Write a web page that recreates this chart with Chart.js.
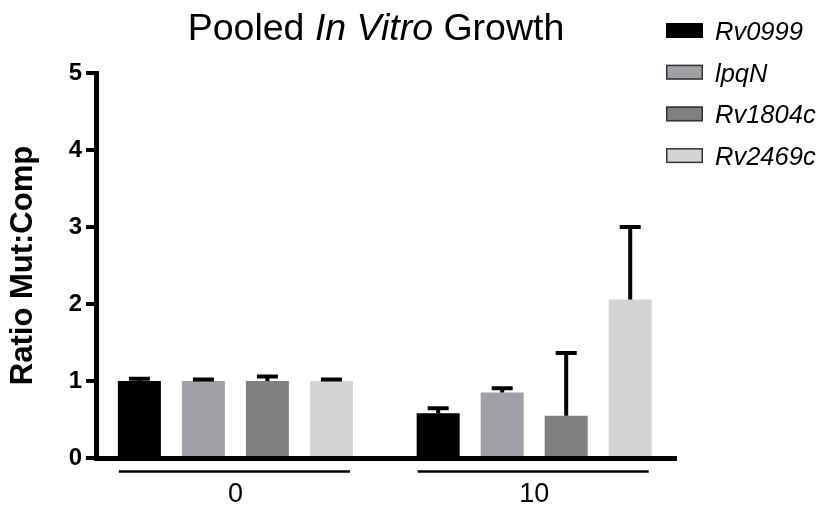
<!DOCTYPE html>
<html>
<head>
<meta charset="utf-8">
<script src="https://cdn.jsdelivr.net/npm/chart.js@4.4.1/dist/chart.umd.min.js"></script>
<style>
  html, body { margin: 0; padding: 0; background: #fff; }
</style>
</head>
<body>
<canvas id="chart" width="823" height="517"></canvas>
<script>
// Time points (x groups) and strains
const categories = ["0", "10"];
const seriesNames = ["Rv0999", "lpqN", "Rv1804c", "Rv2469c"];
const seriesColors = ["#000000", "#a1a1a5", "#808080", "#d4d4d4"];

// Mean ratio mutant:complement
const rv0999 = [1.00, 0.58];
const lpqN = [1.00, 0.85];
const rv1804c = [1.00, 0.55];
const rv2469c = [1.00, 2.06];

// Upper error (SEM)
const rv0999Err = [0.03, 0.065];
const lpqNErr = [0.02, 0.055];
const rv1804cErr = [0.06, 0.815];
const rv2469cErr = [0.02, 0.94];

const yTicks = [0, 1, 2, 3, 4, 5];

const FONT = "'Liberation Sans', Arial, Helvetica, sans-serif";

const values = [rv0999, lpqN, rv1804c, rv2469c];
const errors = [rv0999Err, lpqNErr, rv1804cErr, rv2469cErr];

const datasets = seriesNames.map((name, s) => ({
  label: name,
  data: values[s].map((v, i) => ({ x: i, y: v })),
  errors: errors[s],
  backgroundColor: seriesColors[s],
  borderWidth: 0,
  categoryPercentage: 0.857,
  barPercentage: 0.672
}));

// upward error bars
const errorBars = {
  id: "errorBars",
  afterDatasetsDraw(chart) {
    const ctx = chart.ctx;
    const yScale = chart.scales.y;
    ctx.save();
    ctx.strokeStyle = "#000";
    ctx.lineWidth = 4;
    chart.data.datasets.forEach((ds, di) => {
      chart.getDatasetMeta(di).data.forEach((bar, i) => {
        const top = yScale.getPixelForValue(ds.data[i].y + ds.errors[i]);
        ctx.beginPath();
        ctx.moveTo(bar.x, bar.y);
        ctx.lineTo(bar.x, top);
        ctx.moveTo(bar.x - 10.5, top);
        ctx.lineTo(bar.x + 10.5, top);
        ctx.stroke();
      });
    });
    ctx.restore();
  }
};

// title, group brackets and legend
const decorations = {
  id: "decorations",
  afterDraw(chart) {
    const ctx = chart.ctx;
    const area = chart.chartArea;
    ctx.save();

    // brackets under each group
    const first = chart.getDatasetMeta(0).data;
    const last = chart.getDatasetMeta(chart.data.datasets.length - 1).data;
    ctx.strokeStyle = "#000";
    ctx.lineWidth = 2.5;
    categories.forEach((c, i) => {
      const x1 = first[i].x - first[i].width / 2 + 1;
      const x2 = last[i].x + last[i].width / 2 - 3;
      ctx.beginPath();
      ctx.moveTo(x1, area.bottom + 13.5);
      ctx.lineTo(x2, area.bottom + 13.5);
      ctx.stroke();
    });

    // title with italic part
    const parts = [["Pooled ", ""], ["In Vitro", "italic "], [" Growth", ""]];
    const size = 37.5;
    let total = 0;
    parts.forEach(p => {
      ctx.font = p[1] + size + "px " + FONT;
      total += ctx.measureText(p[0]).width;
    });
    let x = 376 - total / 2;
    ctx.fillStyle = "#000";
    ctx.textBaseline = "alphabetic";
    ctx.textAlign = "left";
    parts.forEach(p => {
      ctx.font = p[1] + size + "px " + FONT;
      ctx.fillText(p[0], x, 40);
      x += ctx.measureText(p[0]).width;
    });

    // legend
    chart.data.datasets.forEach((ds, i) => {
      const cy = 30.5 + i * 41.7;
      ctx.fillStyle = ds.backgroundColor;
      ctx.fillRect(666, cy - 7.5, 37, 15);
      if (i > 0) {
        ctx.strokeStyle = "#333";
        ctx.lineWidth = 1.5;
        ctx.strokeRect(666.75, cy - 6.75, 35.5, 13.5);
      }
      ctx.fillStyle = "#000";
      ctx.font = "italic 25.5px " + FONT;
      ctx.fillText(ds.label, 715, cy + 9.5);
    });

    ctx.restore();
  }
};

new Chart(document.getElementById("chart"), {
  type: "bar",
  data: { datasets },
  plugins: [errorBars, decorations],
  options: {
    responsive: false,
    animation: false,
    devicePixelRatio: 1,
    layout: { padding: { top: 73, right: 147, bottom: 0, left: 0 } },
    plugins: {
      legend: { display: false },
      tooltip: { enabled: false }
    },
    scales: {
      x: {
        type: "linear",
        offset: false,
        min: -0.4665,
        max: 1.4746,
        afterBuildTicks: scale => { scale.ticks = categories.map((c, i) => ({ value: i })); },
        afterFit: scale => { scale.height = 59; },
        grid: { display: false, drawTicks: false, offset: false },
        border: { display: true, color: "#000", width: 5 },
        ticks: {
          padding: 20,
          color: "#000",
          font: { family: FONT, size: 27 },
          callback: v => categories[v]
        }
      },
      y: {
        min: 0,
        max: 5,
        afterBuildTicks: scale => { scale.ticks = yTicks.map(v => ({ value: v })); },
        afterFit: scale => { scale.width = 96; },
        grid: {
          display: true,
          drawOnChartArea: false,
          drawTicks: true,
          tickLength: 10,
          lineWidth: 4,
          color: "#000"
        },
        border: { display: true, color: "#000", width: 5 },
        ticks: {
          padding: 4,
          color: "#000",
          font: { family: FONT, size: 24, weight: "bold" }
        },
        title: {
          display: true,
          text: "Ratio Mut:Comp",
          color: "#000",
          font: { family: FONT, size: 31, weight: "bold" },
          padding: { top: 5, bottom: 0 }
        }
      }
    }
  }
});
</script>
</body>
</html>
